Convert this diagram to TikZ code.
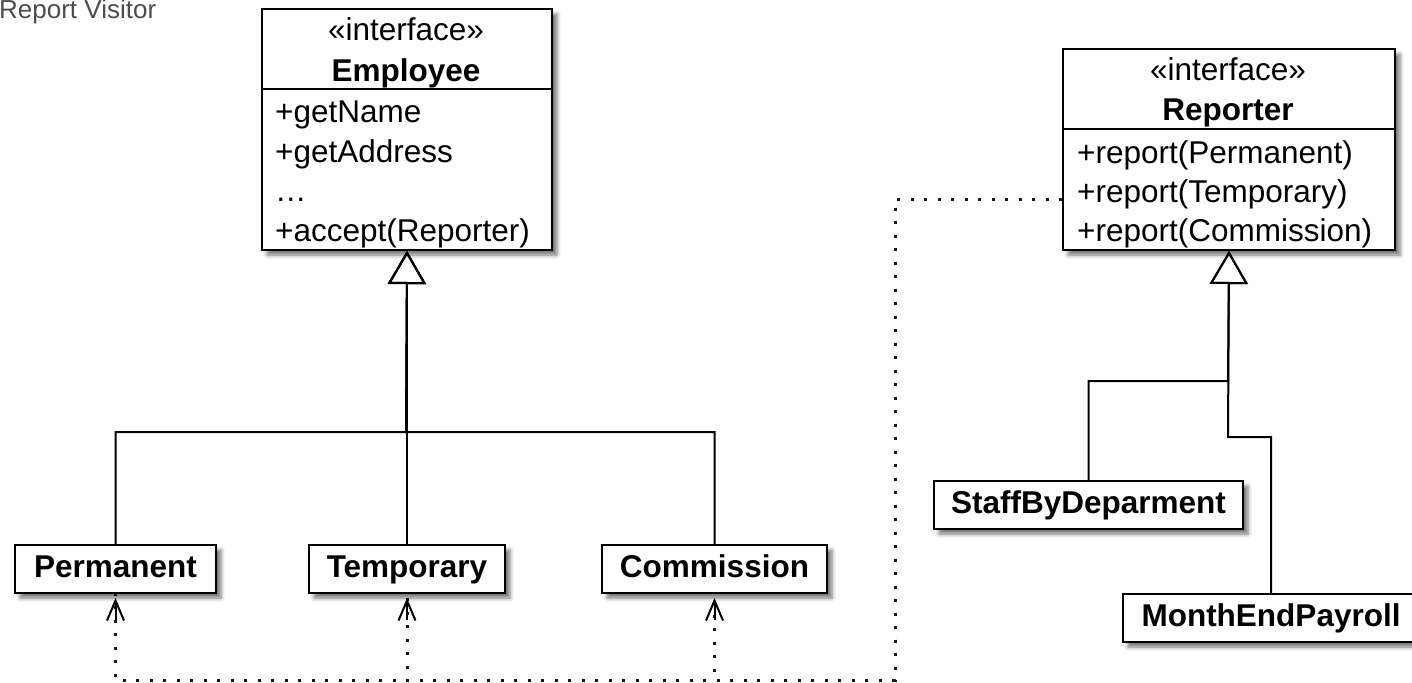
\documentclass[tikz,border=0pt]{standalone}
\usepackage{fontspec}
\setmainfont{Liberation Sans}
\usetikzlibrary{arrows.meta,shadows.blur}
\begin{document}
\begin{tikzpicture}[x=1pt,y=-1pt,
  txt/.style={font=\fontsize{31.5}{38}\selectfont},
  boxbase/.style={draw, line width=2pt, fill=white, inner sep=0pt,
    blur shadow={shadow xshift=5pt, shadow yshift=-5pt,
      shadow blur radius=4pt, shadow opacity=55}},
  ifacebox/.style={boxbase, anchor=north west},
  classbox/.style={boxbase, anchor=north west, minimum height=48pt,
    font=\bfseries\fontsize{31.5}{38}\selectfont, text height=23pt, text depth=6pt},
  stereo/.style={txt, anchor=base, inner sep=0pt},
  cname/.style={txt, font=\bfseries\fontsize{31.5}{38}\selectfont, anchor=base, inner sep=0pt},
  member/.style={txt, anchor=base west, inner sep=0pt},
  divider/.style={line width=2pt},
  inh/.style={line width=2pt, -{Triangle[open, length=33pt, width=38pt]}},
  dep/.style={line width=3pt, draw=black!90, dash pattern=on 3pt off 10.5pt},
  deptip/.style={line width=2pt, -{Straight Barb[length=20pt, width=17pt]}},
]
\useasboundingbox (0,0) rectangle (1412,682);

% title
\node[anchor=base west, inner sep=0pt, text=black!70,
  font=\fontsize{26}{30}\selectfont] (title) at (-1,19) {Report Visitor};

% Employee interface
\node[ifacebox, minimum width=290pt, minimum height=241pt] (emp) at (261,8) {};
\draw[divider] (emp.north west) ++(0,81) -- ++(290,0);
\node[stereo] (empst) at (406,41) {«interface»};
\node[cname] (empname) at (406,82) {Employee};
\node[member] (empm1) at (275,123) {+getName};
\node[member] (empm2) at (275,162) {+getAddress};
\node[member] (empm3) at (275,201) {…};
\node[member] (empm4) at (275,241) {+accept(Reporter)};

% Reporter interface
\node[ifacebox, minimum width=332pt, minimum height=201pt] (rep) at (1062,48) {};
\draw[divider] (rep.north west) ++(0,81) -- ++(332,0);
\node[stereo] (repst) at (1228,81) {«interface»};
\node[cname] (repname) at (1228,121) {Reporter};
\node[member] (repm1) at (1077,163) {+report(Permanent)};
\node[member] (repm2) at (1077,202) {+report(Temporary)};
\node[member] (repm3) at (1077,241) {+report(Commission)};

% concrete employees
\node[classbox, minimum width=201pt] (perm) at (14,544) {Permanent};
\node[classbox, minimum width=196pt] (temp) at (308,544) {Temporary};
\node[classbox, minimum width=225pt] (comm) at (601,544) {Commission};

% concrete reporters
\node[classbox, minimum width=309pt] (staff) at (933,480) {StaffByDeparment};
\node[classbox, minimum width=296pt] (month) at (1122,593) {MonthEndPayroll};

% junction points
\coordinate (ej) at (406,432);
\coordinate (rj1) at (1228,381);
\coordinate (rj2) at (1228,437);
\coordinate (rp) at (1062,199);
\coordinate (dj) at (895,680);

% generalisation
\draw[inh] (perm.north) |- (ej) -- (emp.south);
\draw[inh] (temp.north) -- (emp.south);
\draw[inh] (comm.north) |- (ej) -- (emp.south);
\draw[inh] (staff.north) |- (rj1) -- (rep.south);
\draw[inh] (month.north) |- (rj2) -- (rep.south);

% dependencies: dotted routes, then solid open arrowheads
\draw[dep] (rp) -| (dj) -| (perm.south);
\draw[dep] (rp) -| (dj) -| (temp.south);
\draw[dep] (rp) -| (dj) -| (comm.south);
\foreach \target in {perm, temp, comm}
  \draw[deptip] (\target.south) ++(0,26) -- ([yshift=-4pt]\target.south);
\end{tikzpicture}
\end{document}
